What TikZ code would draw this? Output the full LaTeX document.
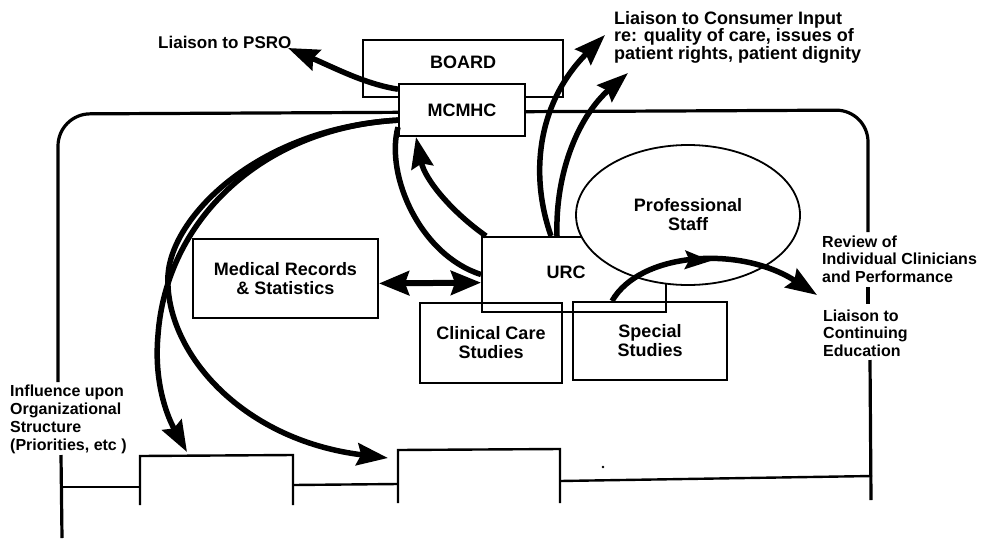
\documentclass[tikz,border=0pt]{standalone}
\usepackage{fontspec}
\setmainfont{Liberation Sans}
\usetikzlibrary{arrows.meta,shapes.geometric,decorations.markings}
\begin{document}
\begin{tikzpicture}[x=1pt,y=-1pt,
  box/.style={draw, line width=2pt, inner sep=0pt, align=center},
  boxtext/.style={font=\bfseries\fontsize{18}{19}\selectfont, align=center, inner sep=0pt},
  note/.style={font=\bfseries\fontsize{16}{17.5}\selectfont, align=left, inner sep=0pt, anchor=west},
  frame/.style={line width=3.2pt},
  stepline/.style={line width=2.4pt},
  flow/.style={line width=5.5pt},
  tip/.style={-{Stealth[length=31pt,width=22pt,inset=4pt]}},
]
\useasboundingbox (0,0) rectangle (981,538);

% outer frame
\draw[frame, rounded corners=32pt] (58,382) -- (58,114) -- (868,110) -- (868,232);
\draw[frame] (868,287) -- (868,304);
\draw[frame] (870,360) -- (871,500);
\draw[frame] (61,455) -- (62,538);

% boxes
\node[box, minimum width=200pt, minimum height=57pt] (board) at (463,68.5) {};
\node[boxtext, yshift=6.5pt] at (board) {BOARD};
\node[box, boxtext, fill=white, minimum width=126pt, minimum height=52pt] (mcmhc) at (462,110) {MCMHC};
\node[box, boxtext, minimum width=185pt, minimum height=79pt] (medrec) at (285.5,278.5) {Medical Records\\\& Statistics};
\node[box, minimum width=184pt, minimum height=75pt] (urc) at (574,274.5) {};
\node[box, boxtext, minimum width=142pt, minimum height=80pt] (clinical) at (491,343) {Clinical Care\\Studies};
\node[box, boxtext, minimum width=154pt, minimum height=78pt] (special) at (650,341) {Special\\Studies};
\node[draw, ellipse, fill=white, line width=1.8pt, minimum width=224pt, minimum height=140pt, boxtext] (staff) at (688,215) {Professional\\Staff};
\node[boxtext, xshift=-8pt, yshift=2pt] at (urc) {URC};

% free ends
\coordinate (psrotip) at (288,48);
\coordinate (infltip) at (187,452);
\coordinate (boxtwotip) at (388,458);
\coordinate (constipa) at (605,35);
\coordinate (constipb) at (628,73);
\coordinate (cetip) at (817,295);

% connectors
\draw[flow,tip] (mcmhc.162) .. controls (365,84) and (335,68) .. (psrotip);
\draw[flow,tip] (mcmhc.189) .. controls (260,128) and (166,222) .. (158,335) .. controls (153,390) and (172,425) .. (infltip);
\draw[flow,tip] (mcmhc.189) .. controls (260,128) and (172,215) .. (168,275) .. controls (164,350) and (240,440) .. (boxtwotip);
\draw[flow] (mcmhc.195) .. controls (385,175) and (420,255) .. (urc.west);
\draw[flow,tip] ([xshift=5pt]urc.north west) .. controls (452,212) and (425,180) .. ([xshift=18pt]mcmhc.south west);
\draw[flow,tip] ([xshift=70pt]urc.north west) .. controls (528,170) and (540,100) .. (constipa);
\draw[flow,tip] ([xshift=76pt]urc.north west) .. controls (555,170) and (580,115) .. (constipb);
\draw[line width=6pt, {Stealth[length=30pt,width=24pt,inset=4pt]}-{Stealth[length=30pt,width=24pt,inset=4pt]}] (medrec.-3) -- (urc.185);
\draw[flow, tip, postaction={decorate}, decoration={markings, mark=at position 0.5 with {\arrow{Stealth[length=26pt,width=18pt,inset=4pt]}}}] ([xshift=40pt]special.north west) .. controls (640,252) and (740,245) .. (cetip);

% bottom structure
\draw[stepline] (62,487) -- (140,487);
\draw[stepline] (140,505) -- (140,456) -- (293,455) -- (293,505);
\draw[stepline] (293,485) -- (398,484);
\draw[stepline] (398,503) -- (398,450) -- (560,449) -- (560,503);
\draw[stepline] (560,481) -- (872,476);
\fill (603,467) circle (1.3pt);

% annotations
\node[note, font=\bfseries\fontsize{17}{17.5}\selectfont] (psro) at (158,42) {Liaison to PSRO};
\node[note, font=\bfseries\fontsize{18}{17.5}\selectfont] (consumer) at (614,37) {Liaison to Consumer Input\\re: quality of care, issues of\\patient rights, patient dignity};
\node[note] (review) at (822,259) {Review of\\Individual Clinicians\\and Performance};
\node[note] (contedu) at (823,333) {Liaison to\\Continuing\\Education};
\node[note, font=\bfseries\fontsize{16}{18}\selectfont] (influence) at (10,419) {Influence upon\\Organizational\\Structure\\(Priorities, etc )};
\end{tikzpicture}
\end{document}
